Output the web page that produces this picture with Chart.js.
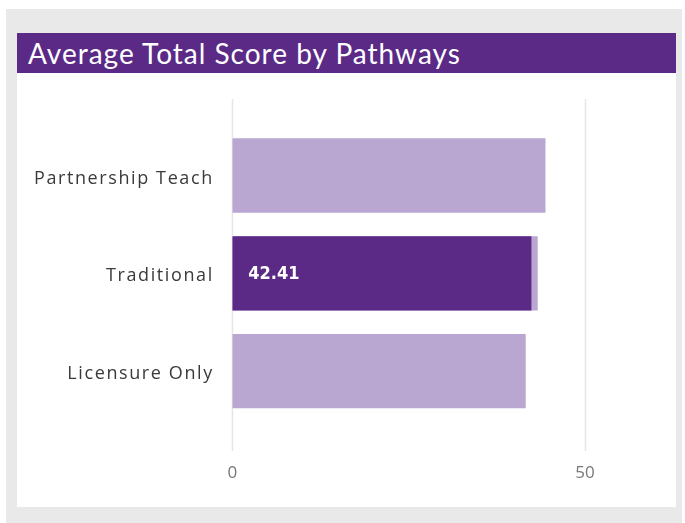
<!DOCTYPE html>
<html>
<head>
<meta charset="utf-8">
<script src="https://cdn.jsdelivr.net/npm/chart.js@4.4.1/dist/chart.umd.min.js"></script>
<style>
  html, body { margin: 0; padding: 0; background: #ffffff; width: 685px; height: 523px; overflow: hidden; }
  #bg { position: absolute; left: 6px; top: 9px; width: 676px; height: 514px; background: #e9e9e9; }
  #card { position: absolute; left: 17px; top: 33px; width: 659px; height: 474px; background: #ffffff; }
  #title { position: absolute; left: 17px; top: 33px; width: 659px; height: 40px; background: #5b2a87;
           color: #ffffff; font-family: Lato, "Open Sans", sans-serif; font-weight: 400; font-size: 28px; line-height: 40px;
           letter-spacing: 1px; box-sizing: border-box; padding-left: 11px; white-space: nowrap; }
  #wrap { position: absolute; left: 0; top: 0; width: 685px; height: 523px; }
</style>
</head>
<body>
<div id="bg"></div>
<div id="card"></div>
<div id="title">Average Total Score by Pathways</div>
<div id="wrap"><canvas id="c" width="685" height="523"></canvas></div>
<script>
const categories = ["Partnership Teach", "Traditional", "Licensure Only"];
const totalValues = [44.4, 43.3, 41.6];
const highlightValues = [null, 42.41, null];
const tickValues = [0, 50];
const axisMax = 60;

const gridPlugin = {
  id: 'extGrid',
  beforeDraw(chart) {
    chart.ctx.letterSpacing = '1.6px';
  },
  beforeDatasetsDraw(chart) {
    const ctx = chart.ctx;
    ctx.letterSpacing = '0px';
    const xs = chart.scales.x;
    ctx.save();
    ctx.strokeStyle = '#e6e6e6';
    ctx.lineWidth = 1.5;
    xs.ticks.forEach(t => {
      const x = Math.round(xs.getPixelForValue(t.value)) + 0.5;
      ctx.beginPath();
      ctx.moveTo(x, 99);
      ctx.lineTo(x, 451);
      ctx.stroke();
    });
    ctx.restore();
  }
};

const labelPlugin = {
  id: 'hlLabel',
  afterDatasetsDraw(chart) {
    const ctx = chart.ctx;
    const meta = chart.getDatasetMeta(0);
    ctx.save();
    ctx.letterSpacing = '0px';
    ctx.fillStyle = '#ffffff';
    ctx.font = "bold 18px 'DejaVu Sans Condensed', 'DejaVu Sans', sans-serif";
    ctx.textAlign = 'left';
    ctx.textBaseline = 'middle';
    highlightValues.forEach((v, i) => {
      if (v == null) return;
      const el = meta.data[i];
      ctx.fillText(v.toFixed(2), el.base + 16, el.y + 1);
    });
    ctx.restore();
  }
};

new Chart(document.getElementById('c'), {
  type: 'bar',
  data: {
    labels: categories,
    datasets: [
      { data: highlightValues, backgroundColor: '#5b2a87', order: 0, grouped: false,
        barPercentage: 0.76, categoryPercentage: 1.0 },
      { data: totalValues, backgroundColor: '#b9a6d1', order: 1, grouped: false,
        barPercentage: 0.76, categoryPercentage: 1.0 }
    ]
  },
  options: {
    indexAxis: 'y',
    responsive: false,
    animation: false,
    events: [],
    layout: { padding: { top: 126.6, right: 29.5, bottom: 0, left: 0 } },
    plugins: { legend: { display: false }, tooltip: { enabled: false } },
    scales: {
      x: {
        min: 0, max: axisMax,
        afterBuildTicks(scale) { scale.ticks = tickValues.map(v => ({ value: v })); },
        afterFit(scale) { scale.height = 103; },
        grid: { display: false, drawTicks: false },
        border: { display: false },
        ticks: { z: 1, color: '#777777', padding: 43, font: { family: "'Open Sans', 'DejaVu Sans', sans-serif", size: 17 } }
      },
      y: {
        afterFit(scale) { scale.width = 232.3; },
        grid: { display: false, drawTicks: false },
        border: { display: false },
        ticks: { color: '#3a3a3a', padding: 18.5, labelOffset: 3, font: { family: "'Open Sans', 'DejaVu Sans', sans-serif", size: 18 } }
      }
    }
  },
  plugins: [gridPlugin, labelPlugin]
});
</script>
</body>
</html>
